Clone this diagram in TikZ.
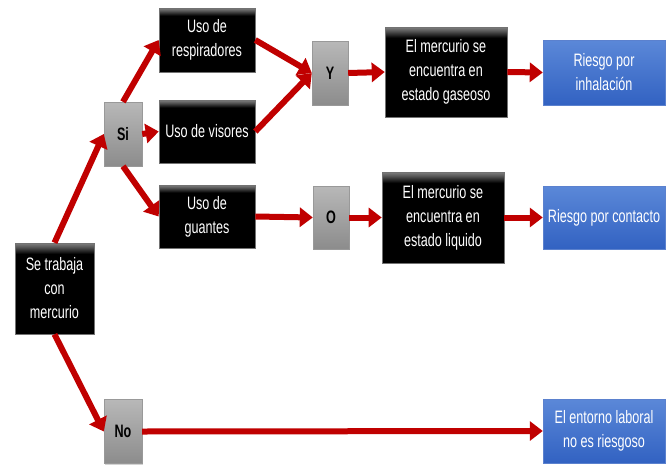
\documentclass[tikz,border=0pt]{standalone}
\usepackage{fontspec}
\setmainfont[FakeStretch=0.70]{Liberation Sans}
\usetikzlibrary{arrows.meta,shadows}
\definecolor{arrred}{HTML}{C00000}
\definecolor{grytop}{HTML}{B8B8B8}
\definecolor{grybot}{HTML}{8C8C8C}
\definecolor{blutop}{HTML}{5B88D8}
\definecolor{blubot}{HTML}{3262C2}
\pgfdeclareverticalshading{blackgloss}{100bp}{color(0bp)=(black); color(25bp)=(black); color(69bp)=(black); color(73bp)=(black!65); color(75bp)=(black!50); color(100bp)=(black!50)}
\pgfdeclareverticalshading{greygloss}{100bp}{color(0bp)=(grybot); color(25bp)=(grybot); color(75bp)=(grytop); color(100bp)=(grytop)}
\pgfdeclareverticalshading{bluegloss}{100bp}{color(0bp)=(blubot); color(25bp)=(blubot); color(75bp)=(blutop); color(100bp)=(blutop)}
\tikzset{
  box/.style={rectangle, inner sep=0pt, align=center,
    font=\fontsize{18}{24}\selectfont,
    drop shadow={opacity=0.35, shadow xshift=1.2pt, shadow yshift=-1.2pt}},
  blk/.style={box, draw=black!55, line width=0.6pt, shading=blackgloss, text=white},
  gry/.style={box, draw=gray!80, line width=0.4pt, shading=greygloss,
    font=\fontsize{18}{24}\selectfont\bfseries},
  blu/.style={box, draw=blubot!80!white, line width=0.4pt, shading=bluegloss, text=white},
  arr/.style={draw=arrred, line width=6pt, -{Triangle[length=13pt,width=19pt]}},
}
\begin{document}
\begin{tikzpicture}[x=1pt,y=-1pt]
\useasboundingbox (0,0) rectangle (670,464);
\fill[white] (0,0) rectangle (670,464);
% nodes
\node[blk, minimum width=79pt, minimum height=91pt] (se) at (54.5,288.5) {Se trabaja\\con\\mercurio};
\node[gry, minimum width=38pt, minimum height=64pt] (si) at (123,134) {Si};
\node[gry, minimum width=38pt, minimum height=64pt] (no) at (123,431.5) {No};
\node[blk, minimum width=96pt, minimum height=64pt] (resp) at (207,40) {Uso de\\respiradores};
\node[blk, minimum width=96pt, minimum height=63pt] (vis) at (207,131.5) {Uso de visores};
\node[blk, minimum width=96pt, minimum height=63pt] (guan) at (207,216.5) {Uso de\\guantes};
\node[gry, minimum width=36pt, minimum height=64pt] (y) at (330,73) {Y};
\node[gry, minimum width=36pt, minimum height=63pt] (o) at (331,217.5) {O};
\node[blk, minimum width=122pt, minimum height=90pt] (gas) at (446,72) {El mercurio se\\encuentra en\\estado gaseoso};
\node[blk, minimum width=122pt, minimum height=91pt] (liq) at (443,217.5) {El mercurio se\\encuentra en\\estado liquido};
\node[blu, minimum width=122pt, minimum height=65pt] (inh) at (604,72.5) {Riesgo por\\inhalación};
\node[blu, minimum width=122pt, minimum height=63pt] (con) at (604,217.5) {Riesgo por contacto};
\node[blu, minimum width=122pt, minimum height=64pt] (ent) at (604,431) {El entorno laboral\\no es riesgoso};
% connectors
\draw[arr] (se.north) -- (si.west);
\draw[arr] (se.south) -- (no.west);
\draw[arr] (si.north) -- (resp.west);
\draw[arr] (si.east) -- (vis.west);
\draw[arr] (si.south) -- (guan.west);
\draw[arr] (resp.east) -- (y.west);
\draw[arr] (vis.east) -- (y.west);
\draw[arr] (guan.east) -- (o.west);
\draw[arr] (y.east) -- (gas.west);
\draw[arr] (o.east) -- (liq.west);
\draw[arr] (gas.east) -- (inh.west);
\draw[arr] (liq.east) -- (con.west);
\draw[arr] (no.east) -- (ent.west);
\end{tikzpicture}
\end{document}
